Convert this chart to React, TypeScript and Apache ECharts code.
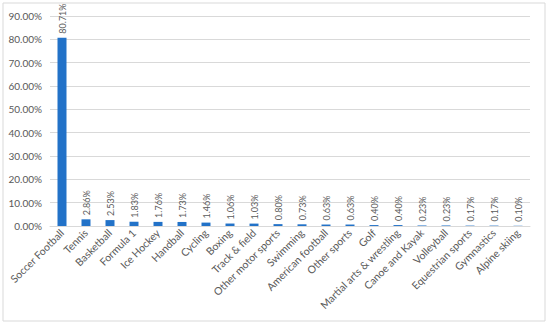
import React, { useEffect, useRef } from "react";
import * as echarts from "echarts";

const categories = [
  "Soccer Football", "Tennis", "Basketball", "Formula 1", "Ice Hockey", "Handball",
  "Cycling", "Boxing", "Track & field", "Other motor sports", "Swimming",
  "American football", "Other sports", "Golf", "Martial arts & wrestling",
  "Canoe and Kayak", "Volleyball", "Equestrian sports", "Gymnastics", "Alpine skiing",
];
const values = [
  80.71, 2.86, 2.53, 1.83, 1.76, 1.73, 1.46, 1.06, 1.03, 0.8, 0.73, 0.63, 0.63,
  0.4, 0.4, 0.23, 0.23, 0.17, 0.17, 0.1,
];

const FONT = "Lato, 'Open Sans', sans-serif";

export default function App() {
  const ref = useRef<HTMLDivElement>(null);
  useEffect(() => {
    if (!ref.current) return;
    const chart = echarts.init(ref.current, null, { renderer: "svg" });
    chart.setOption({
      animation: false,
      textStyle: { fontFamily: FONT },
      graphic: [
        {
          type: "rect",
          shape: { x: 3, y: 3, width: 542, height: 318 },
          style: { fill: "none", stroke: "#d9d9d9", lineWidth: 1 },
          silent: true,
        },
      ],
      grid: { left: 50, right: 20, top: 16, bottom: 102, containLabel: false },
      xAxis: {
        type: "category",
        data: categories,
        axisLine: { lineStyle: { color: "#d9d9d9" } },
        axisTick: { show: false },
        axisLabel: {
          interval: 0,
          rotate: 45,
          color: "#595959",
          fontSize: 10.5,
          fontFamily: FONT,
          margin: 5,
        },
      },
      yAxis: {
        type: "value",
        min: 0,
        max: 90,
        interval: 10,
        axisLine: { show: false },
        axisTick: { show: false },
        splitLine: { lineStyle: { color: "#d9d9d9" } },
        axisLabel: {
          color: "#595959",
          fontSize: 10,
          fontFamily: FONT,
          margin: 8,
          formatter: (v: number) => v.toFixed(2) + "%",
        },
      },
      series: [
        {
          type: "bar",
          data: values,
          barWidth: 9,
          itemStyle: { color: "#2272c8" },
          label: {
            show: true,
            position: "top",
            rotate: 90,
            align: "left",
            verticalAlign: "middle",
            distance: 4,
            color: "#595959",
            fontSize: 9,
            fontFamily: FONT,
            formatter: (p: any) => p.value.toFixed(2) + "%",
          },
        },
      ],
    });
    return () => chart.dispose();
  }, []);
  return (
    <div
      ref={ref}
      style={{ position: "absolute", left: 0, top: 0, width: 550, height: 328 }}
    />
  );
}
